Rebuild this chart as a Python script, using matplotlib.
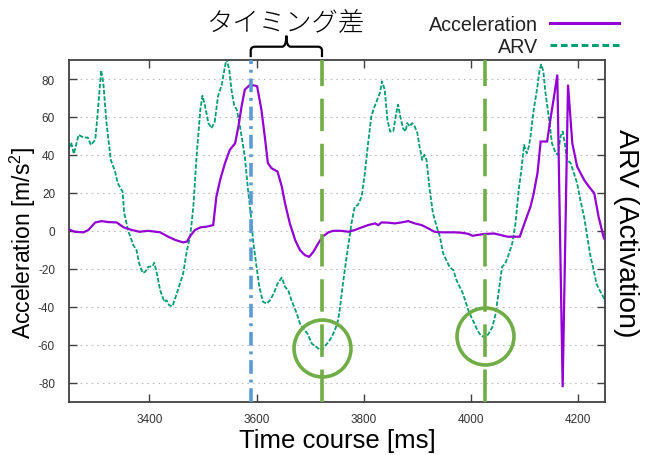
import matplotlib
matplotlib.use("Agg")
import matplotlib.pyplot as plt
from matplotlib.path import Path
from matplotlib.patches import PathPatch
from matplotlib.lines import Line2D

plt.rcParams['font.family'] = ['Liberation Sans', 'Noto Sans CJK JP', 'DejaVu Sans']
plt.rcParams['mathtext.fontset'] = 'custom'
plt.rcParams['mathtext.rm'] = 'Liberation Sans'
plt.rcParams['mathtext.it'] = 'Liberation Sans:italic'
plt.rcParams['axes.unicode_minus'] = False

# ---------------- data ----------------
arv_t = [3250, 3254, 3259, 3268, 3277, 3285, 3291, 3299, 3303, 3307, 3310, 3314, 3320, 3328, 3336, 3341,
         3350, 3353, 3361, 3370, 3376, 3381, 3387, 3392, 3398, 3406, 3409, 3414, 3420, 3428, 3432, 3437,
         3443, 3449, 3457, 3463, 3470, 3476, 3482, 3488, 3495, 3499, 3504, 3510, 3516, 3522, 3528, 3535,
         3541, 3544, 3549, 3553, 3558, 3563, 3568, 3572, 3578, 3584, 3589, 3594, 3599, 3605, 3612, 3619,
         3625, 3632, 3639, 3647, 3653, 3659, 3665, 3675, 3681, 3687, 3695, 3703, 3712, 3719, 3726, 3734,
         3740, 3746, 3752, 3755, 3761, 3768, 3777, 3783, 3789, 3796, 3802, 3808, 3814, 3819, 3825, 3830,
         3834, 3839, 3844, 3849, 3855, 3860, 3864, 3868, 3873, 3878, 3881, 3886, 3890, 3895, 3900, 3904,
         3909, 3913, 3917, 3923, 3929, 3936, 3942, 3948, 3954, 3960, 3967, 3973, 3979, 3985, 3990, 3995,
         4000, 4005, 4012, 4018, 4024, 4028, 4033, 4040, 4046, 4052, 4058, 4064, 4071, 4077, 4083, 4089,
         4094, 4099, 4104, 4108, 4111, 4117, 4124, 4128, 4131, 4135, 4139, 4145, 4151, 4158, 4162, 4167,
         4171, 4175, 4179, 4186, 4192, 4198, 4204, 4211, 4217, 4223, 4229, 4234, 4240, 4247, 4251]
arv_v = [43.6, 46.6, 40.6, 50.6, 49.2, 49.2, 45.3, 48.0, 60.3, 74.4, 84.6, 77.9, 56.8, 37.4, 31.3, 25.1,
         20.7, 9.3, -0.4, -7.4, -10.1, -17.1, -22.0, -21.5, -18.9, -18.5, -16.7, -22.4, -31.2, -37.3, -36.4, -39.1,
         -39.6, -34.7, -27.7, -22.4, -10.1, -3.0, 12.8, 39.2, 63.8, 71.2, 65.6, 56.8, 54.1, 57.7, 70.9, 77.0,
         86.7, 90.5, 84.9, 74.4, 66.5, 63.8, 56.8, 49.7, 39.2, 21.6, 9.3, -6.5, -17.1, -29.4, -37.3, -38.2,
         -36.4, -32.9, -27.7, -24.5, -29.4, -31.2, -36.4, -43.5, -48.8, -51.4, -54.0, -59.3, -61.1, -62.8, -61.1, -58.4,
         -55.8, -52.3, -47.0, -41.7, -27.7, -13.6, 4.0, 12.8, 13.7, 18.1, 30.4, 46.2, 60.3, 64.7, 69.1, 72.6,
         78.8, 74.4, 58.5, 52.4, 52.4, 61.2, 66.5, 60.3, 54.1, 52.4, 56.8, 55.0, 56.8, 55.0, 51.5, 44.5,
         37.4, 40.1, 37.4, 21.6, 9.3, 2.3, -3.0, -11.8, -15.3, -18.9, -20.6, -25.9, -29.4, -32.9, -37.3, -41.7,
         -45.0, -47.9, -52.3, -54.9, -55.8, -55.8, -54.0, -50.5, -43.5, -31.2, -18.9, -17.1, -11.8, -6.5, 4.0, 21.6,
         32.2, 45.3, 40.9, 44.5, 49.7, 63.8, 76.1, 84.9, 87.6, 84.0, 72.6, 60.3, 46.2, 41.0, 40.1, 49.7,
         52.4, 46.2, 37.4, 35.7, 30.4, 25.1, 16.3, 7.5, -3.0, -13.6, -20.6, -27.7, -31.2, -34.7, -38.2]

acc_t = [3250, 3261, 3277, 3286, 3299, 3311, 3323, 3339, 3352, 3364, 3381, 3398, 3420, 3435, 3449, 3463,
         3470, 3476, 3485, 3495, 3507, 3519, 3525, 3532, 3541, 3550, 3560, 3566, 3572, 3578, 3588, 3597,
         3601, 3609, 3616, 3621, 3628, 3639, 3647, 3653, 3662, 3672, 3681, 3690, 3698, 3706, 3715, 3723,
         3734, 3743, 3758, 3771, 3783, 3796, 3808, 3821, 3827, 3833, 3845, 3858, 3870, 3883, 3895, 3908,
         3920, 3932, 3945, 3957, 3970, 3982, 3995, 4003, 4012, 4024, 4043, 4055, 4068, 4091, 4102, 4111,
         4117, 4124, 4130, 4142, 4148, 4155, 4161, 4171, 4181, 4189, 4198, 4211, 4220, 4230, 4238, 4248, 4252]
acc_v = [0.8, -0.4, -0.7, 0.5, 4.5, 5.2, 4.7, 4.5, 1.9, 0.8, -0.4, 0.1, -0.7, -3.0, -4.8, -6.0,
         -5.6, -2.7, 0.5, 1.9, 2.3, 3.1, 18.1, 26.9, 35.7, 42.7, 46.2, 55.0, 65.6, 74.4, 77.0, 76.5,
         76.1, 63.8, 48.0, 35.7, 33.0, 31.3, 23.4, 14.6, 4.0, -4.8, -10.1, -12.7, -13.6, -10.9, -6.5, -3.0,
         -0.7, 0.1, 0.1, -0.4, 0.5, 1.9, 3.1, 4.0, 3.1, 4.5, 4.4, 4.0, 4.5, 5.2, 4.0, 3.1,
         1.4, -0.4, -0.7, -0.7, -0.7, -0.9, -1.5, -2.5, -2.1, -1.6, -1.3, -2.1, -3.0, -3.0, 5.8, 12.8,
         19.8, 30.4, 47.1, 47.1, 58.5, 70.9, 82.3, -82.2, 77.0, 46.2, 33.9, 26.9, 23.4, 19.8, 7.5, -3.9, -5.0]

x_ticks = [3400, 3600, 3800, 4000, 4200]
y_ticks = [-80, -60, -40, -20, 0, 20, 40, 60, 80]

# annotation positions
blue_x = 3589
green_x = [3722, 4027]
circle_x = [3722, 4027]
circle_y = [-61.7, -55.4]
title_text = "タイミング差"

# ---------------- colors ----------------
c_acc = '#9400D3'
c_arv = '#009E73'
c_blue = '#5B9BD5'
c_green = '#70AD47'
c_axis = '#404040'

fig = plt.figure(figsize=(6.5, 4.56), dpi=100)
ax = fig.add_axes([69/650, 1-403/456, (605-69)/650, (403-61)/456])

ax.set_xlim(3250, 4250)
ax.set_ylim(-90, 90)

for yv in y_ticks:
    ax.axhline(yv, color='#bdbdbd', lw=0.8, dashes=(1.5, 3.5), zorder=0)

ax.plot(acc_t, acc_v, color=c_acc, lw=1.6, zorder=3, solid_joinstyle='miter')
ax.plot(arv_t, arv_v, color=c_arv, lw=1.3, dashes=(2.5, 1.0), zorder=2)

ax.axvline(blue_x, color=c_blue, lw=2.6, dashes=(3.8, 1.6, 0.8, 1.6), dash_capstyle='butt', zorder=4)
for gx in green_x:
    ax.axvline(gx, color=c_green, lw=2.6, dashes=(9, 3.5), dash_capstyle='butt', zorder=4)

ax.plot(circle_x, circle_y, linestyle='none', marker='o', ms=41, mfc='none', mec=c_green, mew=2.6, zorder=5)

# bracket
x0, x1 = blue_x, green_x[0]
xm = (x0 + x1) / 2
y_end, y_h, y_c = 91.5, 97.0, 102.8
rx, ry = 8, 2.2
verts = [(x0, y_end), (x0, y_h - ry), (x0, y_h), (x0 + rx, y_h), (xm - rx, y_h), (xm, y_h), (xm, y_c),
         (xm, y_h), (xm + rx, y_h), (x1 - rx, y_h), (x1, y_h), (x1, y_h - ry), (x1, y_end)]
codes = [Path.MOVETO, Path.LINETO, Path.CURVE3, Path.CURVE3, Path.LINETO, Path.CURVE3, Path.CURVE3,
         Path.CURVE3, Path.CURVE3, Path.LINETO, Path.CURVE3, Path.CURVE3, Path.LINETO]
ax.add_patch(PathPatch(Path(verts, codes), fill=False, lw=1.6, color='black', clip_on=False))

ax.set_xticks(x_ticks)
ax.set_yticks(y_ticks)
ax.tick_params(direction='in', length=6, width=1, color=c_axis, labelcolor='#333333', labelsize=8.5,
               top=True, right=True, pad=8)
ax.tick_params(axis='y', pad=10)
for s in ax.spines.values():
    s.set_color(c_axis)
    s.set_linewidth(1.3)

ax.set_xlabel('Time course [ms]', fontsize=18.5, labelpad=2)
ax.set_ylabel('Acceleration [m/s$^2$]', fontsize=16.5)
ax.yaxis.set_label_coords(-0.057, 0.468)
fig.text(626/650, 1 - 233/456, 'ARV (Activation)', rotation=270, ha='center', va='center', fontsize=20.5)

fig.text(285/650, 1 - 22/456, title_text, ha='center', va='center', fontsize=19,
         family=['Noto Sans CJK JP'], fontweight='light')

h_acc = Line2D([], [], color=c_acc, lw=2.2)
h_arv = Line2D([], [], color=c_arv, lw=2.2, dashes=(2.2, 1.2))
fig.legend([h_acc, h_arv], ['Acceleration', 'ARV'], loc='upper right',
           bbox_to_anchor=(619/650, 1 - 16/456), bbox_transform=fig.transFigure,
           frameon=False, markerfirst=False, fontsize=14.2, handlelength=3.5,
           handletextpad=0.6, labelspacing=0.15, borderpad=0, borderaxespad=0,
           labelcolor='#222222')

fig.savefig('out.png', dpi=100)
